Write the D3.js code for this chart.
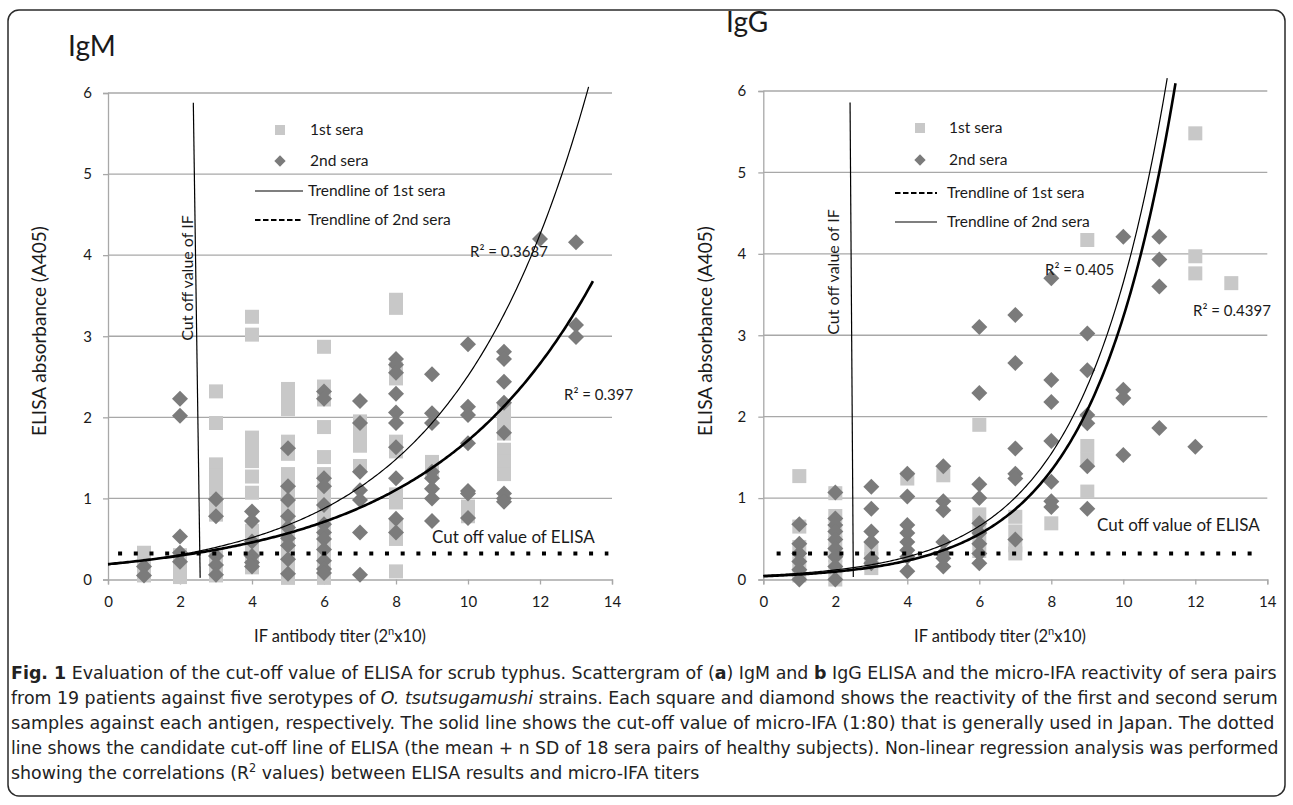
<!DOCTYPE html>
<html><head><meta charset="utf-8">
<script src="https://cdn.jsdelivr.net/npm/d3@7"></script>
<style>
body{margin:0;background:#fff;}
svg{display:block;}
text{font-family:Lato,"Open Sans",sans-serif;fill:#1a1a1a;}
.cap{font-family:"DejaVu Sans",sans-serif;fill:#222;}
</style></head><body>
<svg id="c" width="1293" height="805"></svg>
<script>
// ---------- data ----------
const titerTicks = [0, 2, 4, 6, 8, 10, 12, 14];
const absTicks = [0, 1, 2, 3, 4, 5, 6];
const panelTitles = ["IgM", "IgG"];
const legendLabelsIgM = ["1st sera", "2nd sera", "Trendline of 1st sera", "Trendline of 2nd sera"];
const legendLabelsIgG = ["1st sera", "2nd sera", "Trendline of 1st sera", "Trendline of 2nd sera"];

// columns: [titer, [absorbances]]
const igmFirst = [
  [1, [0.33, 0.18, 0.05]],
  [2, [0.30, 0.15, 0.03]],
  [3, [2.32, 1.93, 1.42, 1.28, 1.12, 0.95, 0.80, 0.30, 0.15, 0.05]],
  [4, [3.24, 3.02, 1.75, 1.60, 1.46, 1.27, 1.07, 0.60, 0.45, 0.30, 0.15]],
  [5, [2.35, 2.20, 2.10, 1.70, 1.55, 1.30, 1.15, 1.00, 0.85, 0.70, 0.55, 0.40, 0.25, 0.10, 0.02]],
  [6, [2.87, 2.38, 2.22, 1.88, 1.51, 1.30, 1.15, 1.00, 0.85, 0.70, 0.55, 0.40, 0.25, 0.10, 0.02]],
  [7, [1.95, 1.80, 1.65, 1.40]],
  [8, [3.45, 3.35, 2.60, 2.48, 1.70, 1.58, 1.05, 0.95, 0.65, 0.50, 0.10]],
  [9, [1.45, 1.32]],
  [10, [0.90, 0.78]],
  [11, [2.10, 1.95, 1.80, 1.60, 1.45, 1.30]]
];
const igmSecond = [
  [1, [0.16, 0.05]],
  [2, [2.23, 2.02, 0.53, 0.33, 0.22]],
  [3, [0.99, 0.78, 0.29, 0.18, 0.06]],
  [4, [0.84, 0.72, 0.47, 0.29, 0.21, 0.16]],
  [5, [1.62, 1.15, 0.98, 0.78, 0.64, 0.51, 0.42, 0.25, 0.07]],
  [6, [2.32, 2.23, 1.25, 1.15, 0.92, 0.68, 0.58, 0.50, 0.37, 0.23, 0.13, 0.08]],
  [7, [2.20, 1.93, 1.33, 1.10, 0.98, 0.58, 0.06]],
  [8, [2.72, 2.65, 2.55, 2.29, 2.06, 1.93, 1.63, 1.25, 0.75, 0.58]],
  [9, [2.53, 2.05, 1.93, 1.33, 1.25, 1.12, 1.00, 0.72]],
  [10, [2.90, 2.13, 2.03, 1.68, 1.09, 1.06, 0.76]],
  [11, [2.81, 2.72, 2.44, 2.18, 1.81, 1.06, 1.00, 0.96]],
  [12, [4.20]],
  [13, [4.16, 3.14, 2.99]]
];
const iggFirst = [
  [1, [1.27, 0.65, 0.40, 0.20, 0.05]],
  [2, [1.06, 0.78, 0.60, 0.45, 0.30, 0.15, 0.00]],
  [3, [0.38, 0.25, 0.14]],
  [4, [1.24]],
  [5, [1.28]],
  [6, [1.90, 0.80, 0.65, 0.50, 0.35]],
  [7, [0.77, 0.59, 0.42, 0.32]],
  [8, [0.69]],
  [9, [4.17, 1.64, 1.47, 1.08]],
  [12, [5.48, 3.97, 3.76]],
  [13, [3.64]]
];
const iggSecond = [
  [1, [0.68, 0.44, 0.32, 0.22, 0.12, 0.00]],
  [2, [1.07, 0.75, 0.67, 0.59, 0.49, 0.38, 0.28, 0.16, 0.00]],
  [3, [1.14, 0.87, 0.59, 0.46, 0.26, 0.20]],
  [4, [1.30, 1.02, 0.67, 0.57, 0.46, 0.36, 0.28, 0.10]],
  [5, [1.39, 0.96, 0.85, 0.46, 0.32, 0.26, 0.16]],
  [6, [3.10, 2.29, 1.17, 1.00, 0.69, 0.57, 0.44, 0.32, 0.20]],
  [7, [3.25, 2.66, 1.61, 1.30, 1.24, 0.49]],
  [8, [3.70, 2.45, 2.18, 1.70, 1.20, 0.96, 0.89]],
  [9, [3.02, 2.57, 2.02, 1.92, 1.39, 0.87]],
  [10, [4.21, 2.33, 2.23, 1.53]],
  [11, [4.21, 3.93, 3.60, 1.86]],
  [12, [1.63]]
];
// exponential trendlines y = a*exp(b*x): [a, b, xEnd]
const igmTrendFirst = [0.18, 0.2636, 13.35];
const igmTrendSecond = [0.19, 0.22, 13.47];
const iggTrendFirst = [0.05, 0.429, 11.22];
const iggTrendSecond = [0.04, 0.439, 11.45];
const igmR2 = ["R² = 0.3687", "R² = 0.397"];
const iggR2 = ["R² = 0.405", "R² = 0.4397"];
// cut-off lines: IF line endpoints [x1,y1,x2,y2] and ELISA cut-off level [y, xStart, xEnd]
const igmIFCut = [2.37, 5.88, 2.56, 0.02];
const iggIFCut = [2.41, 5.86, 2.50, 0.03];
const igmElisaCut = [0.32, 0.28, 13.9];
const iggElisaCut = [0.32, 0.37, 13.6];

const captionLines = [
  [["Fig. 1", "b"], [" Evaluation of the cut-off value of ELISA for scrub typhus. Scattergram of ("], ["a", "b"], [") IgM and "], ["b", "b"], [" IgG ELISA and the micro-IFA reactivity of sera pairs"]],
  [["from 19 patients against five serotypes of "], ["O. tsutsugamushi", "i"], [" strains. Each square and diamond shows the reactivity of the first and second serum"]],
  [["samples against each antigen, respectively. The solid line shows the cut-off value of micro-IFA (1:80) that is generally used in Japan. The dotted"]],
  [["line shows the candidate cut-off line of ELISA (the mean + n SD of 18 sera pairs of healthy subjects). Non-linear regression analysis was performed"]],
  [["showing the correlations (R"], ["2", "s"], [" values) between ELISA results and micro-IFA titers"]]
];

// ---------- drawing ----------
const svg = d3.select("#c");
svg.append("rect").attr("width", 1293).attr("height", 805).attr("fill", "#fff");
const defs = svg.append("defs");
defs.append("filter").attr("id", "blur").attr("x", "-5%").attr("y", "-300%").attr("width", "110%").attr("height", "700%")
  .append("feGaussianBlur").attr("stdDeviation", 1.8);

svg.append("rect").attr("x", 8).attr("y", 10).attr("width", 1277).attr("height", 786)
  .attr("rx", 11).attr("fill", "none").attr("stroke", "#2a2a2a").attr("stroke-width", 1.5);

const SQ = "#c8c8c8", DI = "#7b7b7b", GRID = "#a8a8a8";

function flat(cols) { const out = []; cols.forEach(c => c[1].forEach(v => out.push([c[0], v]))); return out; }

function panel(o) {
  const x = d3.scaleLinear().domain([0, 14]).range(o.xr);
  const y = d3.scaleLinear().domain([0, 6]).range(o.yr);
  const g = svg.append("g");

  g.selectAll(".grid").data(absTicks.filter(t => t > 0)).join("line")
    .attr("x1", x(0)).attr("x2", x(14)).attr("y1", d => y(d)).attr("y2", d => y(d))
    .attr("stroke", GRID).attr("stroke-width", 1.3);

  const ya = g.append("g").attr("transform", `translate(${x(0)},0)`)
    .call(d3.axisLeft(y).tickValues(absTicks).tickSize(5).tickPadding(o.yPad).tickFormat(d3.format("d")));
  const xa = g.append("g").attr("transform", `translate(0,${y(0)})`)
    .call(d3.axisBottom(x).tickValues(titerTicks).tickSize(5).tickPadding(12).tickFormat(d3.format("d")));
  [ya, xa].forEach(a => {
    a.select(".domain").attr("stroke", GRID).attr("stroke-width", 1.3);
    a.selectAll(".tick line").attr("stroke", GRID).attr("stroke-width", 1.3);
    a.selectAll("text").style("font-family", "Lato, sans-serif").style("font-size", "15px").attr("fill", "#1a1a1a");
  });

  g.selectAll(".sq").data(flat(o.first)).join("rect")
    .attr("x", d => x(d[0]) - 7).attr("y", d => y(d[1]) - 7).attr("width", 14).attr("height", 14).attr("fill", SQ);
  g.selectAll(".di").data(flat(o.second)).join("path")
    .attr("d", d3.symbol().type(d3.symbolSquare).size(128))
    .attr("transform", d => `translate(${x(d[0])},${y(d[1])}) rotate(45)`).attr("fill", DI);

  const line = d3.line().x(d => x(d[0])).y(d => y(d[1]));
  o.trends.forEach((t, i) => {
    const pts = d3.range(0, t[2], 0.05).concat([t[2]]).map(v => [v, t[0] * Math.exp(t[1] * v)]);
    g.append("path").attr("d", line(pts)).attr("fill", "none").attr("stroke", "#000")
      .attr("stroke-width", o.trendW[i]);
  });

  const ec = o.elisa;
  g.append("line").attr("x1", x(ec[1])).attr("x2", x(ec[2])).attr("y1", y(ec[0]) + 4).attr("y2", y(ec[0]) + 4)
    .attr("stroke", "#808080").attr("stroke-width", 4.5).attr("stroke-dasharray", "4 11.7")
    .attr("opacity", 0.7).attr("filter", "url(#blur)");
  g.append("line").attr("x1", x(ec[1])).attr("x2", x(ec[2])).attr("y1", y(ec[0])).attr("y2", y(ec[0]))
    .attr("stroke", "#000").attr("stroke-width", 4).attr("stroke-dasharray", "4 11.7");

  const ic = o.ifc;
  g.append("line").attr("x1", x(ic[0])).attr("y1", y(ic[1])).attr("x2", x(ic[2])).attr("y2", y(ic[3]))
    .attr("stroke", "#000").attr("stroke-width", 1.2);

  g.append("text").attr("transform", `translate(${o.ifText[0]},${o.ifText[1]}) rotate(-90)`)
    .attr("text-anchor", "middle").style("font-size", "16px").text("Cut off value of IF");
  g.append("text").attr("x", o.elisaText[0]).attr("y", o.elisaText[1]).style("font-size", "17px").text("Cut off value of ELISA");
  o.r2.forEach((s, i) => g.append("text").attr("x", o.r2pos[i][0]).attr("y", o.r2pos[i][1]).style("font-size", "15px").text(s));

  g.append("text").attr("x", o.title[0]).attr("y", o.title[1]).style("font-size", "28px").text(o.name);

  g.append("text").attr("transform", `translate(${o.yTitle[0]},${o.yTitle[1]}) rotate(-90)`)
    .attr("text-anchor", "middle").style("font-size", "19px").text("ELISA absorbance (A405)");
  const xt = g.append("text").attr("x", o.xTitle[0]).attr("y", o.xTitle[1]).attr("text-anchor", "middle").style("font-size", "16.5px");
  xt.append("tspan").text("IF antibody titer (2");
  xt.append("tspan").attr("dy", -7).style("font-size", "11px").text("n");
  xt.append("tspan").attr("dy", 7).text("x10)");

  const L = o.legend;
  g.append("rect").attr("x", L[0] - 5).attr("y", L[4][0] - 5).attr("width", 10).attr("height", 10).attr("fill", SQ);
  g.append("path").attr("d", d3.symbol().type(d3.symbolSquare).size(64))
    .attr("transform", `translate(${L[0]},${L[4][1]}) rotate(45)`).attr("fill", DI);
  o.legendLabels.forEach((s, i) => {
    g.append("text").attr("x", i < 2 ? L[1] : L[1] - 2).attr("y", L[4][i] + 5).style("font-size", "15.5px").text(s);
  });
  o.legendDash.forEach((dash, i) => {
    g.append("line").attr("x1", L[2]).attr("x2", L[3]).attr("y1", L[4][2 + i]).attr("y2", L[4][2 + i])
      .attr("stroke", "#000").attr("stroke-width", dash ? 2.2 : 1.2).attr("stroke-dasharray", dash ? "5.5 2.5" : null);
  });
}

panel({
  name: panelTitles[0], xr: [108, 612], yr: [579.5, 93], yPad: 11,
  first: igmFirst, second: igmSecond,
  trends: [igmTrendFirst, igmTrendSecond], trendW: [1.2, 2.6],
  elisa: igmElisaCut, ifc: igmIFCut,
  ifText: [193, 278], elisaText: [432, 543],
  r2: igmR2, r2pos: [[470, 257], [564, 400]],
  title: [68, 56], yTitle: [46, 331], xTitle: [340, 642],
  legend: [280, 310, 255, 303, [130, 161, 191, 220]], legendLabels: legendLabelsIgM, legendDash: [false, true]
});
panel({
  name: panelTitles[1], xr: [763.3, 1267.3], yr: [579.5, 91], yPad: 12,
  first: iggFirst, second: iggSecond,
  trends: [iggTrendFirst, iggTrendSecond], trendW: [1.2, 2.6],
  elisa: iggElisaCut, ifc: iggIFCut,
  ifText: [839, 272], elisaText: [1097, 531],
  r2: iggR2, r2pos: [[1045, 275], [1193, 316]],
  title: [726, 32], yTitle: [712, 331], xTitle: [1000, 642],
  legend: [920, 949, 895, 937, [128, 160, 193, 222]], legendLabels: legendLabelsIgG, legendDash: [true, false]
});

// caption: each full line fitted to the text block width, last line at the average compression
const capBase = [679, 704, 729, 754, 779];
const capEnd = [1277, 1279, 1276, 1279, null];
const capNodes = [], capWidths = [];
captionLines.forEach((parts, i) => {
  const t = svg.append("text").attr("class", "cap").attr("x", 0).attr("y", 0).style("font-size", "18.5px");
  const tsp = [];
  parts.forEach(p => {
    const ts = t.append("tspan").text(p[0]);
    if (p[1] === "b") ts.style("font-weight", "bold");
    if (p[1] === "i") ts.style("font-style", "italic");
    if (p[1] === "s") ts.attr("dy", -7).style("font-size", "12px");
    tsp.push(ts);
  });
  const si = parts.findIndex(p => p[1] === "s");
  if (si >= 0 && tsp[si + 1]) tsp[si + 1].attr("dy", 7);
  capNodes.push(t);
  capWidths.push(t.node().getComputedTextLength());
});
const scales = capEnd.map((e, i) => e ? (e - 11) / capWidths[i] : null);
const meanScale = d3.mean(scales.filter(s => s));
capNodes.forEach((t, i) => {
  const sx = scales[i] || meanScale;
  t.attr("transform", `translate(11,${capBase[i]}) scale(${sx},1)`);
});
</script>
</body></html>
